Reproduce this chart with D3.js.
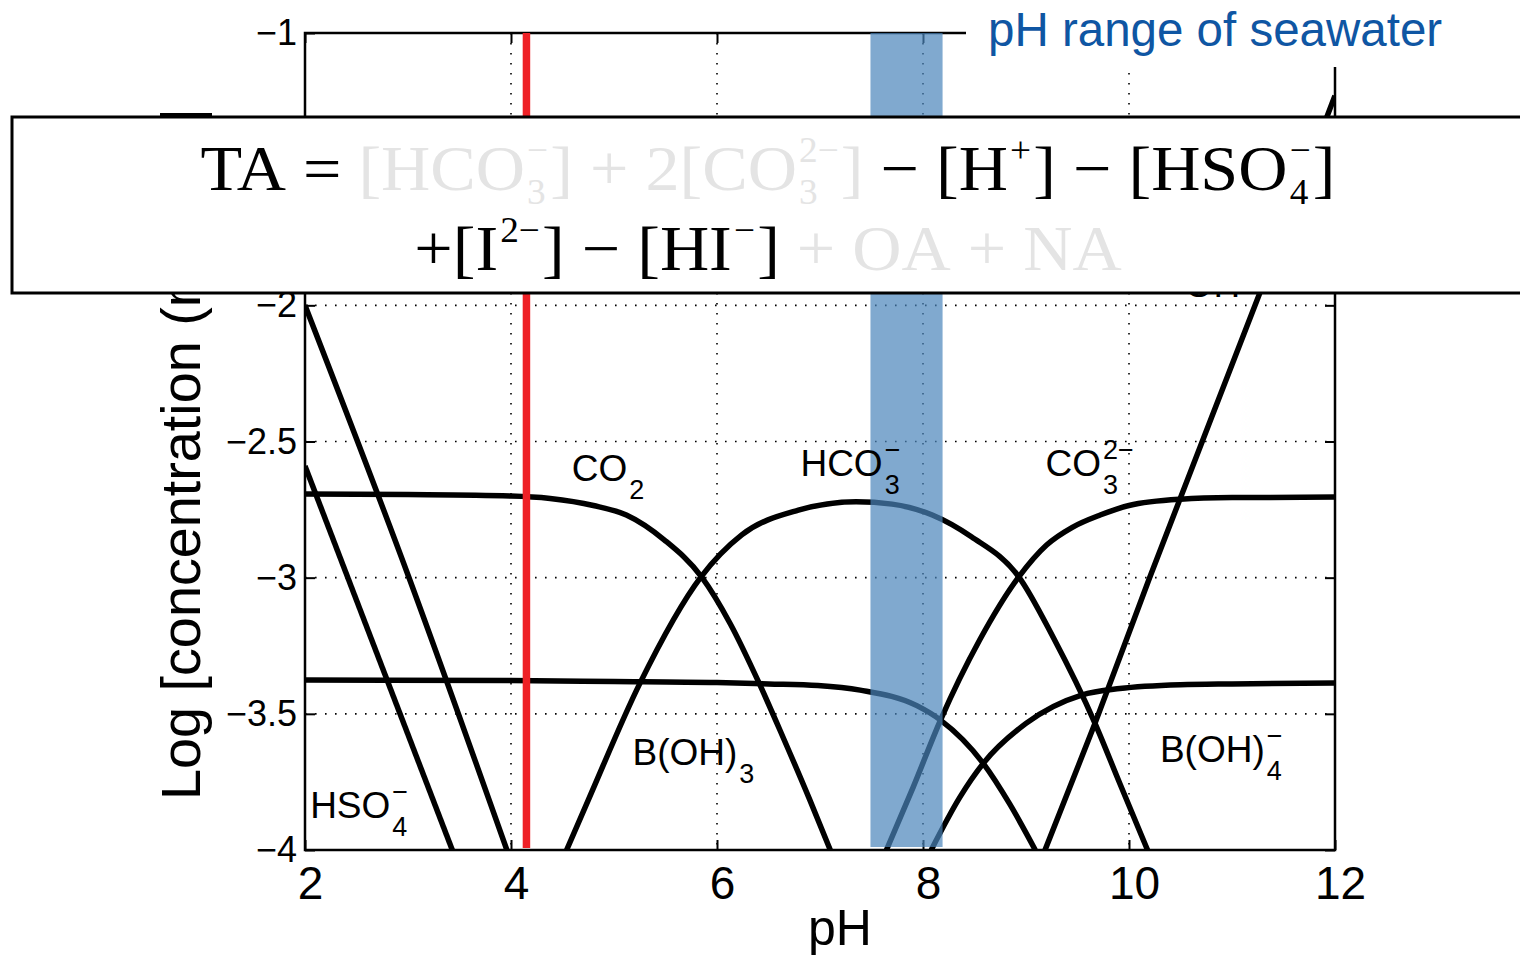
<!DOCTYPE html>
<html>
<head>
<meta charset="utf-8">
<script src="https://cdn.jsdelivr.net/npm/d3@7"></script>
<style>
  body { margin: 0; background: #fff; }
  svg { display: block; }
</style>
</head>
<body>
<div id="chart"></div>
<script>
// axis ticks
const pHTicks = [2, 4, 6, 8, 10, 12];
const logTicks = [-4, -3.5, -3, -2.5, -2, -1.5, -1];
const gridPH = [4, 6, 8, 10];
const gridLog = [-3.5, -3, -2.5, -2, -1.5];

// species curves, [pH, log concentration]
const hPlus = [[2, -2.0], [3, -2.99], [3.96, -4.0]];
const hso4 = [[2, -2.59], [3.43, -4.0]];
const co2 = [[2, -2.693], [3, -2.695], [4, -2.70], [4.38, -2.709], [4.8, -2.735], [5.12, -2.77],
  [5.49, -2.862], [5.85, -2.997], [6.13, -3.17], [6.40, -3.38], [6.64, -3.585], [6.90, -3.815], [7.10, -4.0]];
const hco3 = [[4.54, -4.0], [4.75, -3.817], [5.25, -3.389], [5.845, -2.997], [6.24, -2.843], [6.79, -2.752],
  [7.35, -2.721], [7.7, -2.73], [8.09, -2.77], [8.47, -2.85], [8.93, -2.997], [9.265, -3.22],
  [9.67, -3.535], [9.91, -3.755], [10.18, -4.0]];
const co3 = [[7.645, -4.0], [7.906, -3.768], [8.17, -3.523], [8.55, -3.229], [8.93, -2.997], [9.2, -2.88],
  [9.45, -2.815], [9.72, -2.77], [10.0, -2.735], [10.5, -2.712], [11, -2.706], [12, -2.704]];
const bOH3 = [[2, -3.376], [4, -3.378], [5, -3.381], [6, -3.385], [6.5, -3.39], [6.98, -3.396],
  [7.39, -3.413], [7.94, -3.47], [8.17, -3.523], [8.585, -3.682], [8.84, -3.83], [9.09, -4.0]];
const bOH4 = [[8.08, -4.0], [8.36, -3.805], [8.585, -3.682], [9.0, -3.535], [9.54, -3.431], [9.91, -3.407],
  [10.5, -3.393], [11, -3.39], [12, -3.387]];
const ohMinus = [[9.185, -4.0], [9.67, -3.535], [10.2, -3.0], [11.27, -1.955], [12, -1.23]];

const seawaterRange = [7.49, 8.19];
const titrationPH = 4.15;

const speciesLabels = [
  { name: "HSO", sub: "4", sup: "−", pH: 2.05, log: -3.883 },
  { name: "CO", sub: "2", pH: 4.59, log: -2.645 },
  { name: "HCO", sub: "3", sup: "−", pH: 6.81, log: -2.627 },
  { name: "CO", sub: "3", sup: "2−", pH: 9.19, log: -2.627 },
  { name: "B(OH)", sub: "3", pH: 5.18, log: -3.688 },
  { name: "B(OH)", sub: "4", sup: "−", pH: 10.30, log: -3.677 },
  { name: "OH", sup: "−", pH: 10.54, log: -1.97 },
];

// TA expression, "g" parts are greyed out
const formulaLine1 = [
  { t: "TA = ", c: "k" },
  { t: "[HCO", c: "g" }, { sub: "3", sup: "−", c: "g" }, { t: "] + 2[CO", c: "g" },
  { sub: "3", sup: "2−", c: "g" }, { t: "]", c: "g" },
  { t: " − [H", c: "k" }, { sup: "+", c: "k" }, { t: "] − [HSO", c: "k" },
  { sub: "4", sup: "−", c: "k" }, { t: "]", c: "k" },
];
const formulaLine2 = [
  { t: "+[I", c: "k" }, { sup: "2−", c: "k" }, { t: "] − [HI", c: "k" }, { sup: "−", c: "k" },
  { t: "]", c: "k" }, { t: " + OA + NA", c: "g" },
];

const width = 1520, height = 958;
const sans = "'Liberation Sans', Arial, Helvetica, sans-serif";
const serif = "'Liberation Serif', 'DejaVu Serif', serif";
const plot = { left: 305, right: 1335, top: 33, bottom: 850 };

const x = d3.scaleLinear().domain([2, 12]).range([plot.left, plot.right]);
const y = d3.scaleLinear().domain([-4, -1]).range([plot.bottom, plot.top]);

const svg = d3.select("#chart").append("svg")
  .attr("width", width).attr("height", height)
  .style("font-family", sans);

// -1.5 sits under the formula box, so no label for it
const minus = (d) => (d === -1.5 ? "" : String(d).replace("-", "−"));

// axis labels
svg.append("text")
  .attr("transform", "translate(200,800) rotate(-90)")
  .attr("font-size", 55.75)
  .text("Log [concentration (mol/kg)]");

svg.append("text")
  .attr("x", 840).attr("y", 945)
  .attr("text-anchor", "middle")
  .attr("font-size", 50)
  .text("pH");

// grid
const grid = svg.append("g")
  .attr("stroke", "#000").attr("stroke-width", 1.6).attr("stroke-dasharray", "1.6,8.4");
grid.selectAll(".gx").data(gridPH).join("line")
  .attr("x1", (d) => x(d)).attr("x2", (d) => x(d))
  .attr("y1", plot.top).attr("y2", plot.bottom);
grid.selectAll(".gy").data(gridLog).join("line")
  .attr("x1", plot.left).attr("x2", plot.right)
  .attr("y1", (d) => y(d)).attr("y2", (d) => y(d));

// curves
svg.append("clipPath").attr("id", "clip").append("rect")
  .attr("x", plot.left).attr("y", plot.top)
  .attr("width", plot.right - plot.left).attr("height", plot.bottom - plot.top);

const line = d3.line()
  .x((d) => x(d[0]))
  .y((d) => y(d[1]))
  .curve(d3.curveMonotoneX);

const curves = [hPlus, hso4, co2, hco3, co3, bOH3, bOH4, ohMinus];
svg.append("g").attr("clip-path", "url(#clip)")
  .selectAll("path").data(curves).join("path")
  .attr("d", line)
  .attr("fill", "none")
  .attr("stroke", "#000")
  .attr("stroke-width", 5.5)
  .attr("stroke-linejoin", "round");

// axes with inward ticks
const yAxis = svg.append("g")
  .attr("transform", `translate(${plot.left},0)`)
  .call(d3.axisLeft(y).tickValues(logTicks).tickSizeInner(-10).tickSizeOuter(0)
    .tickPadding(8).tickFormat(minus));
const xAxis = svg.append("g")
  .attr("transform", `translate(0,${plot.bottom})`)
  .call(d3.axisBottom(x).tickValues(pHTicks).tickSizeInner(-10).tickSizeOuter(0)
    .tickPadding(16).tickFormat((d) => d));
svg.append("g")
  .attr("transform", `translate(${plot.right},0)`)
  .call(d3.axisRight(y).tickValues(logTicks).tickSizeInner(-10).tickSizeOuter(0).tickFormat(""));
svg.append("g")
  .attr("transform", `translate(0,${plot.top})`)
  .call(d3.axisTop(x).tickValues(pHTicks).tickSizeInner(-10).tickSizeOuter(0).tickFormat(""));

svg.selectAll(".domain").remove();
svg.selectAll(".tick line").attr("stroke", "#000").attr("stroke-width", 2);
yAxis.selectAll("text").attr("font-size", 36).attr("font-family", sans).attr("fill", "#000");
xAxis.selectAll("text").attr("font-size", 46).attr("font-family", sans).attr("fill", "#000").attr("dx", 5);

svg.append("rect")
  .attr("x", plot.left).attr("y", plot.top)
  .attr("width", plot.right - plot.left).attr("height", plot.bottom - plot.top)
  .attr("fill", "none").attr("stroke", "#000").attr("stroke-width", 2.5);

// seawater pH band and titration end point
svg.append("rect")
  .attr("x", x(seawaterRange[0])).attr("y", plot.top)
  .attr("width", x(seawaterRange[1]) - x(seawaterRange[0]))
  .attr("height", plot.bottom - plot.top - 3)
  .attr("fill", "#4a84bb").attr("fill-opacity", 0.7);

svg.append("line")
  .attr("x1", x(titrationPH)).attr("x2", x(titrationPH))
  .attr("y1", plot.top).attr("y2", plot.bottom - 2)
  .attr("stroke", "#ee2026").attr("stroke-width", 7.5);

// species labels
speciesLabels.forEach((d) => {
  const g = svg.append("g").attr("transform", `translate(${x(d.pH)},${y(d.log)})`);
  const base = g.append("text").attr("font-size", 37).text(d.name);
  const w = base.node().getComputedTextLength() + 2;
  if (d.sub) g.append("text").attr("x", w).attr("y", 18).attr("font-size", 27).text(d.sub);
  if (d.sup) g.append("text").attr("x", w).attr("y", -17).attr("font-size", 27).text(d.sup);
});

// caption patch in the top right
svg.append("rect").attr("x", 966).attr("y", 0).attr("width", width - 966).attr("height", 67).attr("fill", "#fff");
svg.append("text")
  .attr("x", 988).attr("y", 46)
  .attr("font-size", 47.5)
  .attr("fill", "#0f56a3")
  .text("pH range of seawater");

// formula box
svg.append("rect")
  .attr("x", 12).attr("y", 117).attr("width", width).attr("height", 176)
  .attr("fill", "#fff").attr("stroke", "#000").attr("stroke-width", 3);

const ink = { k: "#000", g: "#e4e4e4" };
const nb = (s) => s.replace(/ /g, "\u00a0");

function layoutFormula(tokens, baseline) {
  const g = svg.append("g").style("font-family", serif);
  let cx = 0;
  tokens.forEach((tok) => {
    const fill = ink[tok.c];
    if (tok.t) {
      const el = g.append("text").attr("x", cx).attr("y", baseline)
        .attr("font-size", 64).attr("fill", fill).text(nb(tok.t));
      cx += el.node().getComputedTextLength();
    } else {
      let w = 0;
      if (tok.sup) {
        const el = g.append("text").attr("x", cx + 2).attr("y", baseline - 28)
          .attr("font-size", 35).attr("fill", fill).text(tok.sup);
        w = Math.max(w, el.node().getComputedTextLength());
      }
      if (tok.sub) {
        const el = g.append("text").attr("x", cx + 2).attr("y", baseline + 14)
          .attr("font-size", 35).attr("fill", fill).text(tok.sub);
        w = Math.max(w, el.node().getComputedTextLength());
      }
      cx += w + 4;
    }
  });
  return { g, w: cx };
}

const f1 = layoutFormula(formulaLine1, 190);
const f2 = layoutFormula(formulaLine2, 270);
const sx = 1135 / f1.w;
const centre = 768;
f1.g.attr("transform", `translate(${centre - (f1.w * sx) / 2},0) scale(${sx},1)`);
f2.g.attr("transform", `translate(${centre - (f2.w * sx) / 2},0) scale(${sx},1)`);
</script>
</body>
</html>
